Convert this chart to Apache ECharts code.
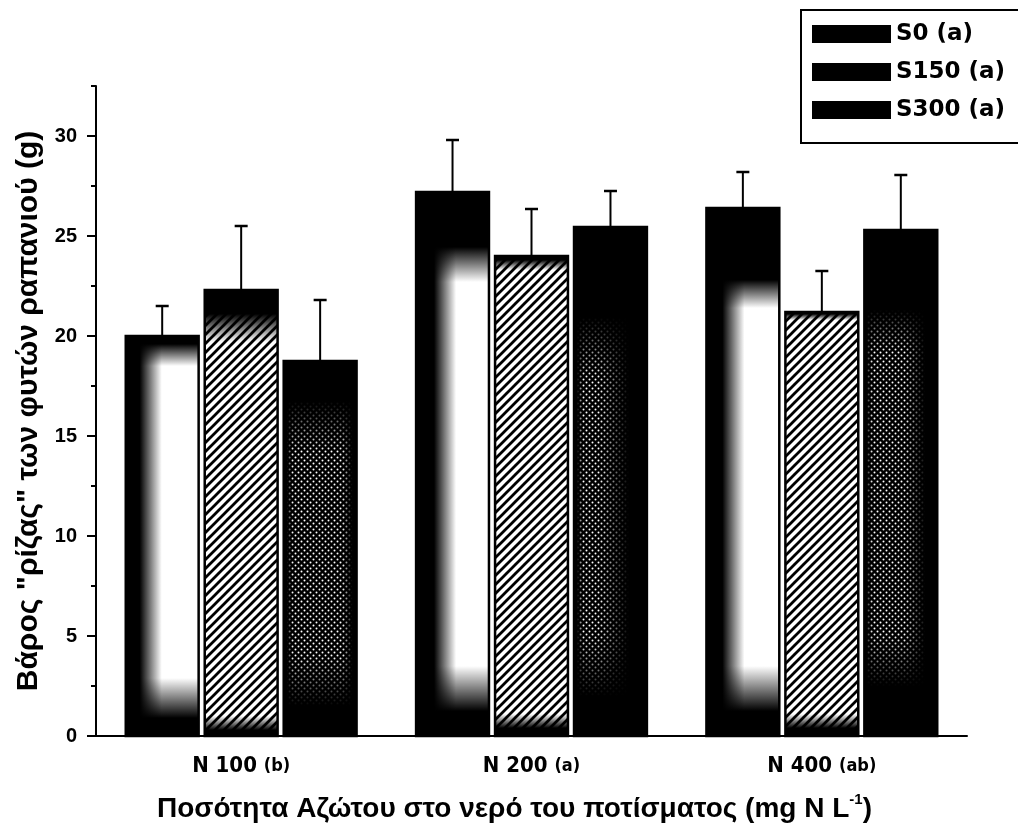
<!DOCTYPE html>
<html>
<head>
<meta charset="utf-8">
<script src="https://cdn.jsdelivr.net/npm/echarts@6/dist/echarts.min.js"></script>
<style>
  html, body { margin: 0; padding: 0; background: #fff; }
  #chart { width: 1018px; height: 834px; }
</style>
</head>
<body>
<div id="chart"></div>
<script>
// Nitrogen levels in the irrigation water and their group letters
const categories = ['N 100', 'N 200', 'N 400'];
const categoryGroups = ['(b)', '(a)', '(ab)'];

// Salinity treatments
const seriesNames = ['S0 (a)', 'S150 (a)', 'S300 (a)'];

// Root fresh weight (g) and standard error for each treatment
const s0Values = [20.0, 27.2, 26.4];
const s0Errors = [1.5, 2.6, 1.8];
const s150Values = [22.3, 24.0, 21.2];
const s150Errors = [3.2, 2.35, 2.05];
const s300Values = [18.75, 25.45, 25.3];
const s300Errors = [3.05, 1.8, 2.75];

// Y axis ticks
const yMajorTicks = [0, 5, 10, 15, 20, 25, 30];
const yMinorTicks = [2.5, 7.5, 12.5, 17.5, 22.5, 27.5, 32.5];

const FONT = '"Liberation Sans", Arial, sans-serif';
const CONDENSED = '"DejaVu Sans Condensed", "Liberation Sans", sans-serif';

// Printed toner density around the rim of each bar (pixels of solid black, then fade)
const tonerShade = [
  [ // S0 open bars
    { top: 8,  topFade: 22, bottom: 18, bottomFade: 40, left: 14, leftFade: 22, right: 0, rightFade: 0 },
    { top: 55, topFade: 35, bottom: 25, bottomFade: 45, left: 18, leftFade: 22, right: 0, rightFade: 0 },
    { top: 72, topFade: 28, bottom: 25, bottomFade: 45, left: 16, leftFade: 22, right: 0, rightFade: 0 }
  ],
  [ // S150 hatched bars
    { top: 24, topFade: 28, bottom: 6, bottomFade: 14, left: 0, leftFade: 0, right: 0, rightFade: 0 },
    { top: 4,  topFade: 10, bottom: 8, bottomFade: 14, left: 0, leftFade: 0, right: 0, rightFade: 0 },
    { top: 2,  topFade: 6,  bottom: 8, bottomFade: 14, left: 0, leftFade: 0, right: 0, rightFade: 0 }
  ],
  [ // S300 dotted bars
    { top: 40, topFade: 50, bottom: 30, bottomFade: 50, left: 3, leftFade: 6, right: 4, rightFade: 10 },
    { top: 90, topFade: 60, bottom: 40, bottomFade: 60, left: 3, leftFade: 6, right: 18, rightFade: 30 },
    { top: 80, topFade: 40, bottom: 50, bottomFade: 50, left: 2, leftFade: 6, right: 12, rightFade: 20 }
  ]
];

// Fill tiles: diagonal hatching and a halftone dot screen
function hatchTile(s, lw) {
  const cv = document.createElement('canvas');
  cv.width = s; cv.height = s;
  const g = cv.getContext('2d');
  g.fillStyle = '#fff';
  g.fillRect(0, 0, s, s);
  g.strokeStyle = '#000';
  g.lineWidth = lw;
  g.beginPath();
  g.moveTo(-1, s + 1); g.lineTo(s + 1, -1);
  g.moveTo(-s / 2, s / 2); g.lineTo(s / 2, -s / 2);
  g.moveTo(s / 2, s * 1.5); g.lineTo(s * 1.5, s / 2);
  g.stroke();
  return cv;
}
function dotTile(s, r) {
  const cv = document.createElement('canvas');
  cv.width = s; cv.height = s;
  const g = cv.getContext('2d');
  g.fillStyle = '#000';
  g.fillRect(0, 0, s, s);
  g.fillStyle = '#fff';
  [[s / 4, s / 4], [3 * s / 4, 3 * s / 4]].forEach(function (p) {
    g.beginPath(); g.arc(p[0], p[1], r, 0, Math.PI * 2); g.fill();
  });
  return cv;
}
const fills = [
  '#fff',
  { image: hatchTile(9, 2.8), repeat: 'repeat' },
  { image: dotTile(6, 1.0), repeat: 'repeat' }
];

const INK = 'rgba(0,0,0,1)';
const CLEAR = 'rgba(0,0,0,0)';
function clamp01(v) { return Math.max(0, Math.min(1, v)); }
function rimGradient(horizontal, size, a, aFade, b, bFade) {
  const s1 = clamp01(a / size), s2 = clamp01((a + aFade) / size);
  const e2 = clamp01(1 - (b + bFade) / size), e1 = clamp01(1 - b / size);
  const stops = [
    { offset: 0, color: a > 0 ? INK : CLEAR },
    { offset: s1, color: a > 0 ? INK : CLEAR },
    { offset: Math.max(s2, s1), color: CLEAR },
    { offset: Math.max(e2, s2), color: CLEAR },
    { offset: Math.max(e1, e2, s2), color: b > 0 ? INK : CLEAR },
    { offset: 1, color: b > 0 ? INK : CLEAR }
  ];
  return horizontal
    ? new echarts.graphic.LinearGradient(0, 0, 1, 0, stops)
    : new echarts.graphic.LinearGradient(0, 0, 0, 1, stops);
}

function makeRenderer(si) {
  return function (params, api) {
    const ci = api.value(0);
    const v = api.value(1);
    const e = api.value(2);
    const band = api.size([1, 0])[0];
    const barW = band * 0.251;
    const step = band * 0.272;
    const base = api.coord([ci, 0]);
    const top = api.coord([ci, v]);
    const errTop = api.coord([ci, v + e]);
    const cx = base[0] + (si - 1) * step;
    const x = cx - barW / 2;
    const y = top[1];
    const h = base[1] - top[1];
    const sh = tonerShade[si][ci];
    const shape = { x: x, y: y, width: barW, height: h };
    return {
      type: 'group',
      children: [
        { type: 'rect', shape: shape, style: { fill: fills[si] } },
        { type: 'rect', shape: shape,
          style: { fill: rimGradient(false, h, sh.top, sh.topFade, sh.bottom, sh.bottomFade) } },
        { type: 'rect', shape: shape,
          style: { fill: rimGradient(true, barW, sh.left, sh.leftFade, sh.right, sh.rightFade) } },
        { type: 'rect', shape: shape, style: { fill: null, stroke: '#000', lineWidth: 2.5 } },
        { type: 'line', shape: { x1: cx, y1: y, x2: cx, y2: errTop[1] },
          style: { stroke: '#000', lineWidth: 2 } },
        { type: 'line', shape: { x1: cx - 6.5, y1: errTop[1], x2: cx + 6.5, y2: errTop[1] },
          style: { stroke: '#000', lineWidth: 2.5 } }
      ]
    };
  };
}

function seriesData(values, errors) {
  return values.map(function (v, i) { return [i, v, errors[i]]; });
}
const seriesValues = [
  seriesData(s0Values, s0Errors),
  seriesData(s150Values, s150Errors),
  seriesData(s300Values, s300Errors)
];

const chart = echarts.init(document.getElementById('chart'), null, { renderer: 'canvas' });

chart.setOption({
  backgroundColor: '#fff',
  animation: false,
  color: ['#000', '#000', '#000'],
  grid: { left: 96, right: 51, top: 86, bottom: 98, containLabel: false },
  legend: {
    orient: 'vertical',
    left: 801,
    top: 10,
    padding: [11, 40, 20, 11],
    borderColor: '#000',
    borderWidth: 2,
    backgroundColor: '#fff',
    icon: 'rect',
    itemWidth: 79,
    itemHeight: 18,
    itemGap: 12,
    data: seriesNames,
    textStyle: {
      color: '#000',
      fontFamily: '"DejaVu Sans", sans-serif',
      fontWeight: 'bold',
      fontSize: 23,
      lineHeight: 26
    }
  },
  xAxis: [
    {
      type: 'category',
      data: categories,
      position: 'bottom',
      offset: 0,
      axisLine: { lineStyle: { color: '#000', width: 2 } },
      axisTick: { alignWithLabel: true, length: 10, lineStyle: { color: '#000', width: 2 } },
      axisLabel: {
        interval: 0,
        hideOverlap: false,
        margin: 19,
        color: '#000',
        fontFamily: CONDENSED,
        fontWeight: 'bold',
        fontSize: 22,
        formatter: function (val, idx) {
          return '{n|' + val + '} {g|' + categoryGroups[idx] + '}';
        },
        rich: {
          n: { fontFamily: CONDENSED, fontWeight: 'bold', fontSize: 22, color: '#000' },
          g: { fontFamily: CONDENSED, fontWeight: 'bold', fontSize: 18, color: '#000' }
        }
      },
      splitLine: { show: false },
      name: '{t|Ποσότητα Αζώτου στο νερό του ποτίσματος (mg N L}{s|-1}{t|)}',
      nameLocation: 'middle',
      nameGap: 56,
      nameTextStyle: {
        padding: [0, 34, 0, 0],
        rich: {
          t: { fontFamily: FONT, fontWeight: 'bold', fontSize: 28, lineHeight: 34, color: '#000' },
          s: { fontFamily: FONT, fontWeight: 'bold', fontSize: 15, lineHeight: 18, verticalAlign: 'top', color: '#000' }
        }
      }
    },
    {
      type: 'category',
      data: categories,
      position: 'bottom',
      offset: 0,
      axisLine: { show: false },
      axisTick: { alignWithLabel: false, length: 5, lineStyle: { color: '#000', width: 2 } },
      axisLabel: { show: false },
      splitLine: { show: false }
    }
  ],
  yAxis: [
    {
      type: 'value',
      position: 'left',
      offset: 0,
      min: 0,
      max: 32.5,
      interval: 5,
      axisLine: { show: true, lineStyle: { color: '#000', width: 2 } },
      axisTick: { show: true, customValues: yMajorTicks, length: 9, lineStyle: { color: '#000', width: 2 } },
      axisLabel: {
        customValues: yMajorTicks,
        margin: 19,
        color: '#000',
        fontFamily: FONT,
        fontWeight: 'bold',
        fontSize: 20
      },
      splitLine: { show: false },
      name: 'Βάρος "ρίζας" των φυτών ραπανιού (g)',
      nameLocation: 'middle',
      nameGap: 50,
      nameTextStyle: {
        color: '#000',
        fontFamily: FONT,
        fontWeight: 'bold',
        fontSize: 30
      }
    },
    {
      type: 'value',
      position: 'left',
      offset: 0,
      min: 0,
      max: 32.5,
      interval: 5,
      axisLine: { show: false },
      axisTick: { show: true, customValues: yMinorTicks, length: 5, lineStyle: { color: '#000', width: 2 } },
      axisLabel: { show: false },
      splitLine: { show: false }
    }
  ],
  series: seriesNames.map(function (name, si) {
    return {
      name: name,
      type: 'custom',
      xAxisIndex: 0,
      yAxisIndex: 0,
      itemStyle: { color: '#000' },
      encode: { x: 0, y: 1 },
      renderItem: makeRenderer(si),
      data: seriesValues[si]
    };
  })
});
</script>
</body>
</html>
